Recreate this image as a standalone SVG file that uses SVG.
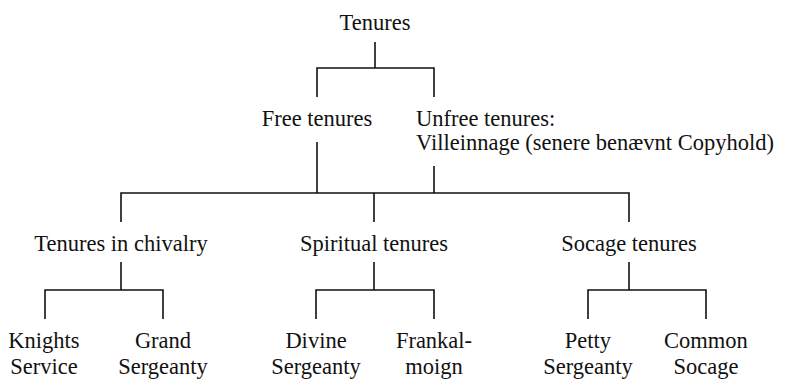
<svg xmlns="http://www.w3.org/2000/svg" width="785" height="381" viewBox="0 0 785 381">
  <style>
    text { font-family: "Liberation Serif", "Times New Roman", serif; font-size: 22.5px; fill: #111; }
    .c { text-anchor: middle; }
    #connectors path { fill: none; stroke: #111; stroke-width: 1.6; }
  </style>
  <rect width="785" height="381" fill="#fff"/>

  <g id="connectors">
    <!-- Tenures -> free / unfree -->
    <path d="M375 42 V68"/>
    <path d="M317 97 V68 H434 V97"/>
    <!-- free / unfree -> three kinds of free tenure -->
    <path d="M317 142 V193"/>
    <path d="M434 166 V193"/>
    <path d="M121 222 V193 H629 V222"/>
    <path d="M374 193 V222"/>
    <!-- chivalry -->
    <path d="M121 262 V290"/>
    <path d="M45 319 V290 H163 V319"/>
    <!-- spiritual -->
    <path d="M374 262 V290"/>
    <path d="M316 319 V290 H434 V319"/>
    <!-- socage -->
    <path d="M629 262 V290"/>
    <path d="M588 319 V290 H706 V319"/>
  </g>

  <g id="tenures"><text class="c" x="375" y="30">Tenures</text></g>
  <g id="free"><text class="c" x="317" y="126">Free tenures</text></g>
  <g id="unfree">
    <text x="416" y="126">Unfree tenures:</text>
    <text x="416" y="150">Villeinnage (senere benævnt Copyhold)</text>
  </g>

  <g id="chivalry"><text class="c" x="121" y="251">Tenures in chivalry</text></g>
  <g id="spiritual"><text class="c" x="374" y="251">Spiritual tenures</text></g>
  <g id="socage"><text class="c" x="629" y="251">Socage tenures</text></g>

  <g id="knights"><text class="c" x="44" y="348">Knights</text><text class="c" x="44" y="374">Service</text></g>
  <g id="grand"><text class="c" x="163" y="348">Grand</text><text class="c" x="163" y="374">Sergeanty</text></g>
  <g id="divine"><text class="c" x="316" y="348">Divine</text><text class="c" x="316" y="374">Sergeanty</text></g>
  <g id="frankalmoign"><text class="c" x="434" y="348">Frankal-</text><text class="c" x="434" y="374">moign</text></g>
  <g id="petty"><text class="c" x="588" y="348">Petty</text><text class="c" x="588" y="374">Sergeanty</text></g>
  <g id="common"><text class="c" x="706" y="348">Common</text><text class="c" x="706" y="374">Socage</text></g>
</svg>
